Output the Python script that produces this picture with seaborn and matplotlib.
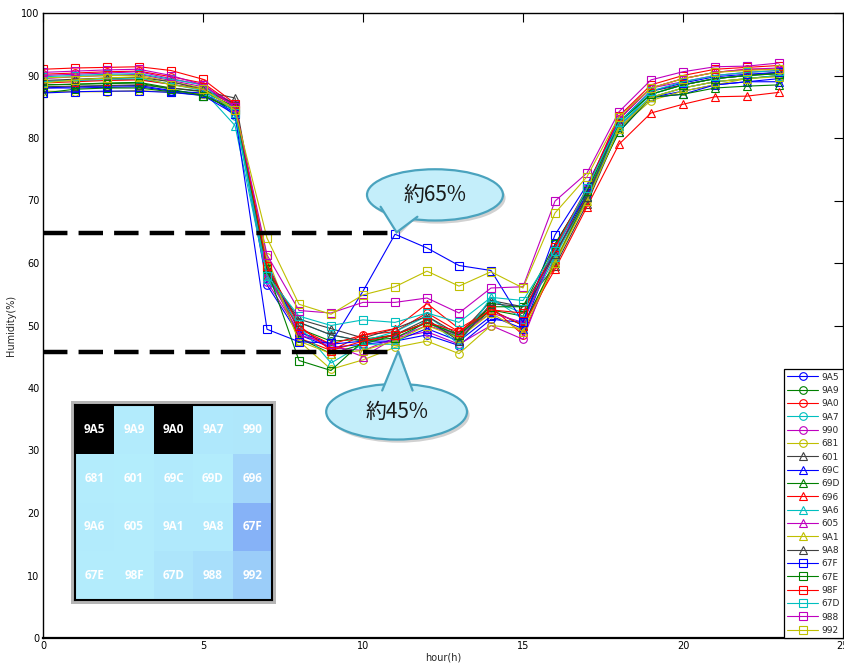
import numpy as np
import pandas as pd
import matplotlib
matplotlib.use("Agg")
import matplotlib.pyplot as plt
import seaborn as sns
from matplotlib.patches import Ellipse, Polygon, Rectangle
from matplotlib.colors import LinearSegmentedColormap

hours = list(range(24))
sensors = ["9A5", "9A9", "9A0", "9A7", "990", "681", "601", "69C", "69D", "696",
           "9A6", "605", "9A1", "9A8", "67F", "67E", "98F", "67D", "988", "992"]

s_9A5 = [88.0, 88.2, 88.3, 88.4, 87.6, 87.0, 84.8, 56.5, 48.5, 46.5, 47.0, 47.5, 48.5, 46.8, 51.0, 50.5, 63.0, 71.5, 82.0, 86.5, 87.5, 88.5, 89.0, 89.5]
s_9A9 = [88.5, 88.6, 88.8, 88.9, 88.0, 87.4, 85.0, 59.0, 49.5, 47.5, 47.8, 48.5, 50.5, 48.5, 52.5, 51.5, 61.5, 71.0, 82.5, 87.0, 88.5, 89.5, 90.0, 90.3]
s_9A0 = [90.2, 90.4, 90.6, 90.7, 89.8, 88.8, 85.2, 59.5, 48.0, 46.0, 48.5, 49.0, 52.0, 49.0, 53.0, 48.5, 60.0, 71.0, 83.0, 88.0, 89.5, 90.5, 91.0, 91.0]
s_9A7 = [89.0, 89.2, 89.3, 89.4, 88.6, 87.8, 83.5, 58.0, 50.5, 48.5, 47.5, 49.0, 51.5, 48.0, 54.0, 52.0, 62.0, 71.5, 82.0, 87.0, 88.5, 89.5, 90.0, 90.5]
s_990 = [89.5, 89.8, 90.0, 90.2, 89.2, 88.2, 85.5, 57.0, 49.0, 46.5, 46.0, 48.0, 49.0, 47.0, 50.0, 47.8, 61.0, 72.0, 83.5, 88.0, 89.0, 90.0, 90.5, 90.8]
s_681 = [87.5, 87.4, 87.4, 87.6, 87.3, 87.0, 84.5, 61.0, 47.5, 43.0, 44.5, 46.5, 47.5, 45.5, 50.0, 49.5, 60.5, 70.0, 81.5, 86.0, 87.5, 88.5, 89.5, 90.0]
s_601 = [88.2, 88.3, 88.4, 88.5, 88.0, 87.5, 86.4, 58.5, 51.0, 49.5, 48.0, 49.5, 51.5, 48.5, 54.0, 53.0, 59.5, 69.5, 81.5, 86.5, 88.0, 89.0, 89.5, 90.0]
s_69C = [88.0, 88.0, 88.1, 88.2, 87.5, 87.2, 84.0, 60.0, 49.0, 47.0, 47.5, 47.5, 49.5, 47.5, 51.5, 49.5, 62.5, 71.0, 81.0, 86.5, 87.0, 88.5, 89.0, 89.0]
s_69D = [87.2, 87.8, 88.0, 88.0, 87.4, 86.8, 84.5, 59.5, 48.0, 45.5, 47.0, 48.5, 50.5, 48.0, 52.5, 50.0, 60.0, 70.5, 81.0, 86.5, 87.0, 88.0, 88.3, 88.5]
s_696 = [88.8, 89.0, 89.2, 89.3, 88.6, 87.8, 85.2, 58.0, 49.5, 47.0, 48.5, 49.5, 53.5, 49.5, 52.5, 50.0, 59.0, 69.0, 79.0, 84.0, 85.4, 86.6, 86.7, 87.3]
s_9A6 = [89.0, 89.3, 89.5, 89.6, 88.6, 87.6, 82.0, 57.5, 50.0, 44.0, 47.0, 47.0, 51.0, 47.0, 54.5, 51.0, 61.0, 70.5, 82.0, 86.5, 88.0, 89.0, 89.5, 90.0]
s_605 = [90.0, 90.2, 90.4, 90.6, 89.5, 88.5, 85.0, 58.5, 48.5, 47.0, 45.0, 48.0, 50.0, 48.5, 52.0, 50.5, 62.0, 72.0, 83.0, 88.0, 89.5, 90.5, 91.0, 91.2]
s_9A1 = [89.6, 89.8, 90.0, 90.0, 89.0, 88.0, 84.5, 60.0, 47.5, 45.5, 46.0, 47.5, 50.0, 48.0, 52.0, 49.0, 60.0, 70.0, 81.5, 86.5, 88.0, 89.0, 89.5, 89.8]
s_9A8 = [89.2, 89.4, 89.6, 89.7, 89.0, 87.8, 85.5, 59.0, 50.5, 48.5, 47.5, 48.5, 51.0, 47.5, 53.5, 53.0, 61.5, 70.5, 82.5, 87.5, 88.5, 89.5, 90.0, 90.5]
s_67F = [87.2, 87.4, 87.5, 87.5, 87.3, 86.8, 83.8, 49.4, 47.4, 47.2, 55.5, 64.6, 62.4, 59.6, 58.8, 50.5, 64.5, 72.5, 82.5, 87.5, 88.8, 89.8, 90.2, 90.5]
s_67E = [88.5, 88.6, 88.7, 88.8, 87.8, 86.8, 84.5, 59.0, 44.4, 42.8, 47.5, 48.0, 50.5, 48.5, 53.0, 53.0, 63.0, 71.5, 82.5, 87.0, 88.5, 89.5, 90.0, 90.3]
s_98F = [91.0, 91.2, 91.3, 91.4, 90.8, 89.4, 85.5, 59.5, 50.0, 46.0, 47.5, 48.5, 50.5, 49.0, 52.5, 52.0, 62.5, 72.0, 83.5, 88.5, 90.0, 91.0, 91.3, 91.6]
s_67D = [89.8, 90.0, 90.2, 90.3, 89.4, 88.5, 84.0, 58.0, 51.5, 50.0, 50.9, 50.5, 52.0, 50.5, 54.5, 54.0, 62.0, 72.0, 82.5, 87.5, 89.0, 90.0, 90.5, 90.8]
s_988 = [90.5, 90.7, 90.9, 91.0, 90.0, 88.5, 85.0, 61.3, 52.4, 52.0, 53.7, 53.7, 54.4, 52.0, 56.0, 56.2, 69.9, 74.4, 84.2, 89.3, 90.6, 91.4, 91.5, 92.0]
s_992 = [88.8, 89.3, 89.6, 89.8, 88.5, 87.8, 84.5, 64.0, 53.4, 51.8, 54.9, 56.2, 58.7, 56.3, 58.6, 56.0, 68.0, 73.8, 83.4, 88.0, 89.5, 90.5, 90.8, 91.0]

series = [s_9A5, s_9A9, s_9A0, s_9A7, s_990, s_681, s_601, s_69C, s_69D, s_696,
          s_9A6, s_605, s_9A1, s_9A8, s_67F, s_67E, s_98F, s_67D, s_988, s_992]

# inset grid (sensor layout)
grid_labels = [["9A5", "9A9", "9A0", "9A7", "990"],
               ["681", "601", "69C", "69D", "696"],
               ["9A6", "605", "9A1", "9A8", "67F"],
               ["67E", "98F", "67D", "988", "992"]]
grid_values = [[-1.0, 0.05, -1.0, 0.10, 0.12],
               [0.03, 0.02, 0.06, 0.04, 0.40],
               [0.05, 0.03, 0.08, 0.08, 1.00],
               [0.03, 0.03, 0.15, 0.25, 0.55]]

ref_high = 64.8
ref_low = 45.7
ref_end = 11.1

# ---------------------------------------------------------------
sns.set_style("white")
plt.rcParams['font.family'] = ['DejaVu Sans']

mcols = ["#0000ff", "#008000", "#ff0000", "#00bfbf", "#bf00bf", "#bfbf00", "#404040"]
markers_seq = ["o"] * 6 + ["^"] * 8 + ["s"] * 6
palette = {n: mcols[i % 7] for i, n in enumerate(sensors)}
markers = {n: markers_seq[i] for i, n in enumerate(sensors)}

df = pd.DataFrame({
    "hour": np.tile(hours, len(sensors)),
    "humidity": np.concatenate([np.array(s) for s in series]),
    "sensor": np.repeat(sensors, len(hours)),
})

W, H = 845, 666
fig = plt.figure(figsize=(W / 100, H / 100), dpi=100)
ax = fig.add_axes([43 / W, (H - 638) / H, 800 / W, 625 / H])

sns.lineplot(data=df, x="hour", y="humidity", hue="sensor", style="sensor",
             hue_order=sensors, style_order=sensors, palette=palette,
             markers=markers, dashes=False, estimator=None, sort=False,
             linewidth=0.8, markersize=5.5, legend=False, ax=ax)

lines = list(ax.lines)
for ln in lines:
    c = ln.get_color()
    ln.set_markeredgecolor(c)
    ln.set_markerfacecolor("none")
    ln.set_markeredgewidth(0.8)

ax.set_xlim(0, 25)
ax.set_ylim(0, 100)
ax.set_xticks([0, 5, 10, 15, 20, 25])
ax.set_yticks(range(0, 101, 10))
ax.tick_params(direction="in", length=6.5, width=0.8, top=True, right=True,
               labelsize=7, pad=2.5, colors="black")
for s in ax.spines.values():
    s.set_visible(True)
    s.set_color("black")
    s.set_linewidth(1.0)
ax.spines["bottom"].set_linewidth(1.6)
ax.set_xlabel("hour(h)", fontsize=7, labelpad=1)
ax.set_ylabel("Humidity(%)", fontsize=7, labelpad=4)

leg = ax.legend(lines, sensors, loc="lower right", bbox_to_anchor=(1.0, 0.0),
                borderaxespad=0.0, fontsize=6.5, handlelength=3.4,
                labelspacing=0.48, handletextpad=0.4, borderpad=0.35,
                frameon=True, fancybox=False, framealpha=1.0)
leg.get_frame().set_edgecolor("black")
leg.get_frame().set_linewidth(0.9)

# reference dashed lines
ax.plot([0, ref_end], [ref_high, ref_high], color="black", lw=3.2,
        dashes=(5.5, 2.5), zorder=5, solid_capstyle="butt")
ax.plot([0, ref_end], [ref_low, ref_low], color="black", lw=3.2,
        dashes=(5.5, 2.5), zorder=5, solid_capstyle="butt")

# callouts
fill_c = "#c4eefa"
edge_c = "#4aa3be"
cjk = ["Noto Sans CJK JP", "DejaVu Sans"]

def callout(cx, cy, w, h, base, tip, text):
    ax.add_patch(Ellipse((cx + 0.08, cy - 0.5), w, h, facecolor="#9a9a9a",
                         edgecolor="none", alpha=0.45, zorder=6))
    ax.add_patch(Polygon([base[0], base[1], (tip[0] + 0.08, tip[1] - 0.4)],
                         closed=True, facecolor="#9a9a9a", edgecolor="none",
                         alpha=0.45, zorder=6))
    ax.add_patch(Ellipse((cx, cy), w, h, facecolor=fill_c, edgecolor=edge_c,
                         lw=1.6, zorder=7))
    ax.add_patch(Polygon([base[0], base[1], tip], closed=True,
                         facecolor=fill_c, edgecolor="none", zorder=8))
    ax.plot([base[0][0], tip[0], base[1][0]], [base[0][1], tip[1], base[1][1]],
            color=edge_c, lw=1.6, zorder=9, solid_joinstyle="miter")
    ax.text(cx, cy, text, ha="center", va="center", fontsize=15,
            family=cjk, color="#1a1a1a", zorder=10)

callout(12.25, 70.9, 4.25, 8.2, [(10.55, 69.0), (11.7, 67.4)], (11.05, 64.9), "約65%")
callout(11.05, 36.2, 4.4, 8.9, [(10.6, 39.6), (11.55, 39.6)], (11.1, 45.9), "約45%")

# inset sensor layout
ix0, iy0, iw, ih = 75, 405, 197, 195
shadow = Rectangle(((ix0 - 4) / W, (H - iy0 - ih - 4) / H), (iw + 8) / W, (ih + 8) / H,
                   transform=fig.transFigure, facecolor="#b5b5b5",
                   edgecolor="none", zorder=20)
fig.patches.append(shadow)
axin = fig.add_axes([ix0 / W, (H - iy0 - ih) / H, iw / W, ih / H], zorder=30)
cmap = LinearSegmentedColormap.from_list("grid", ["#b4eefc", "#86b2f7"])
cmap.set_under("black")
sns.heatmap(np.array(grid_values), ax=axin, cmap=cmap, vmin=0, vmax=1,
            annot=np.array(grid_labels), fmt="", cbar=False,
            annot_kws=dict(color="white", fontweight="bold", fontsize=8.5,
                           family="Open Sans"))
for s in axin.spines.values():
    s.set_visible(True)
    s.set_color("black")
    s.set_linewidth(1.5)
axin.set_xticks([0.5, 1.5, 2.5, 3.5, 4.5])
axin.set_yticks([0.5, 1.5, 2.5, 3.5])
axin.set_xticklabels([])
axin.set_yticklabels([])
axin.tick_params(direction="in", length=3, width=1.2, top=True, right=True,
                 left=True, bottom=True, labelbottom=False, labelleft=False,
                 colors="black")

fig.savefig("out.png", dpi=100, facecolor="white")
